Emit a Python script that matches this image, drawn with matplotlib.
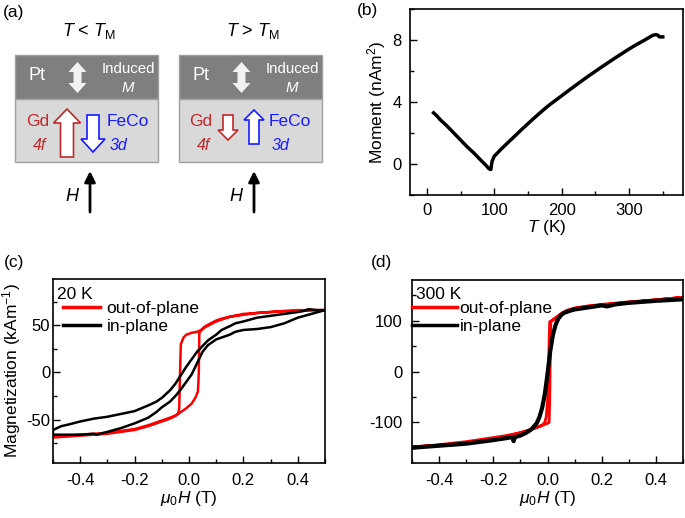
import matplotlib
matplotlib.use('Agg')
import matplotlib.pyplot as plt
from matplotlib.patches import Polygon, Rectangle
from matplotlib.lines import Line2D
from matplotlib.ticker import MultipleLocator

plt.rcParams['font.family'] = ['Liberation Sans', 'DejaVu Sans']
plt.rcParams['mathtext.fontset'] = 'custom'
plt.rcParams['mathtext.rm'] = 'Liberation Sans'
plt.rcParams['mathtext.it'] = 'Liberation Sans:italic'
plt.rcParams['font.size'] = 12.5

# (b) moment vs temperature
temp_k = [10, 15, 20, 30, 40, 50, 60, 70, 80, 88, 92, 94, 95, 96, 97, 100, 110, 120, 130,
          140, 150, 160, 170, 180, 190, 200, 210, 220, 230, 240, 250, 260, 270, 280, 290,
          300, 310, 320, 330, 335, 340, 343, 345, 350]
moment = [3.3, 3.1, 2.85, 2.45, 2.0, 1.55, 1.1, 0.7, 0.25, -0.1, -0.3, -0.35, -0.35, 0.0,
          0.2, 0.5, 0.95, 1.37, 1.78, 2.2, 2.6, 3.0, 3.38, 3.75, 4.08, 4.4, 4.73, 5.05, 5.37,
          5.68, 5.98, 6.28, 6.57, 6.86, 7.14, 7.42, 7.68, 7.92, 8.17, 8.3, 8.35, 8.3, 8.2, 8.2]

# (c) 20 K loops
c_oop_h_down = [0.50, 0.45, 0.40, 0.35, 0.30, 0.25, 0.20, 0.15, 0.12, 0.10, 0.08, 0.06, 0.045,
                0.03, 0.01, -0.01, -0.02, -0.03, -0.033, -0.036, -0.04, -0.06, -0.08, -0.10,
                -0.12, -0.15, -0.20, -0.25, -0.30, -0.35, -0.40, -0.45, -0.50]
c_oop_m_down = [66, 66, 65, 65, 64, 63, 61, 59, 57, 55, 52, 49, 45, 43, 42, 40, 37, 30, 0, -38,
                -44, -47, -49, -51, -53, -56, -60, -62, -64, -65, -66, -67, -68]
c_oop_h_up = [-0.50, -0.45, -0.40, -0.35, -0.30, -0.25, -0.20, -0.15, -0.10, -0.07, -0.05,
              -0.03, -0.01, 0.01, 0.025, 0.033, 0.036, 0.038, 0.045, 0.06, 0.08, 0.10, 0.12,
              0.15, 0.20, 0.25, 0.30, 0.35, 0.40, 0.45, 0.50]
c_oop_m_up = [-69, -68, -67, -66, -65, -63, -61, -57, -52, -49, -46, -42, -38, -33, -26, -20,
              0, 42, 45, 48, 51, 54, 56, 59, 62, 63, 64, 65, 66, 66, 66]
c_ip_h_down = [0.50, 0.47, 0.44, 0.42, 0.40, 0.35, 0.30, 0.25, 0.20, 0.17, 0.15, 0.12, 0.10,
               0.07, 0.05, 0.03, 0.01, -0.01, -0.03, -0.05, -0.07, -0.10, -0.12, -0.15, -0.20,
               -0.25, -0.30, -0.35, -0.40, -0.44, -0.47, -0.50]
c_ip_m_down = [66, 66, 67, 65, 64, 62, 60, 58, 54, 52, 49, 45, 40, 34, 28, 22, 14, 6, -3, -12,
               -19, -27, -31, -35, -41, -44, -47, -49, -52, -55, -57, -61]
c_ip_h_up = [-0.50, -0.45, -0.40, -0.35, -0.34, -0.30, -0.25, -0.20, -0.15, -0.12, -0.10,
             -0.07, -0.05, -0.03, -0.01, 0.01, 0.03, 0.05, 0.07, 0.10, 0.12, 0.15, 0.17, 0.20,
             0.25, 0.30, 0.35, 0.40, 0.45, 0.50]
c_ip_m_up = [-66, -66, -66, -65, -66, -63, -59, -54, -48, -42, -37, -31, -25, -18, -10, -2,
             10, 22, 29, 35, 37, 40, 43, 45, 46, 48, 52, 58, 62, 66]

# (d) 300 K loops
d_oop_h_down = [0.50, 0.40, 0.30, 0.20, 0.15, 0.10, 0.07, 0.05, 0.03, 0.015, 0.008, 0.006,
                0.004, 0.0, -0.005, -0.01, -0.02, -0.04, -0.06, -0.10, -0.15, -0.20, -0.30,
                -0.40, -0.50]
d_oop_m_down = [146, 141, 137, 132, 129, 125, 120, 114, 106, 100, 98, 60, 0, -60, -90, -100,
                -106, -110, -114, -120, -126, -130, -138, -144, -149]
d_oop_h_up = [-0.50, -0.40, -0.30, -0.20, -0.15, -0.10, -0.06, -0.04, -0.02, 0.0, 0.006,
              0.008, 0.010, 0.012, 0.016, 0.03, 0.05, 0.07, 0.10, 0.15, 0.20, 0.30, 0.40, 0.50]
d_oop_m_up = [-148, -145, -140, -132, -127, -121, -114, -110, -106, -102, -100, -60, 20, 96,
              100, 104, 112, 119, 124, 128, 131, 136, 141, 146]
d_ip_h = [-0.50, -0.40, -0.30, -0.20, -0.15, -0.13, -0.125, -0.12, -0.10, -0.08, -0.06, -0.04,
          -0.03, -0.02, -0.01, 0.0, 0.01, 0.02, 0.03, 0.04, 0.05, 0.06, 0.08, 0.10, 0.15, 0.20,
          0.22, 0.25, 0.30, 0.40, 0.50]
d_ip_m = [-150, -146, -142, -135, -131, -129, -137, -129, -126, -121, -114, -102, -90, -72, -45,
          -5, 40, 72, 92, 104, 111, 115, 119, 122, 126, 130, 128, 132, 135, 139, 142]

W, H = 685, 518
fig = plt.figure(figsize=(W / 100, H / 100), dpi=100)


def px_axes(left, top, right, bottom):
    return fig.add_axes([left / W, 1 - bottom / H, (right - left) / W, (bottom - top) / H])


def style_axes(ax, xpad=6, ypad=6):
    ax.tick_params(which='both', direction='in', top=False, right=False, labelsize=12)
    ax.tick_params(axis='x', pad=xpad)
    ax.tick_params(axis='y', pad=ypad)
    ax.tick_params(which='major', length=5, width=1)
    ax.tick_params(which='minor', length=3, width=1)
    for s in ax.spines.values():
        s.set_linewidth(1.2)


# ---------- (a) schematic ----------
axa = fig.add_axes([0, 1 - 250 / H, 340 / W, 250 / H])
axa.set_xlim(0, 340)
axa.set_ylim(250, 0)
axa.axis('off')

RED = '#c0282d'
BLUE = '#1a1aff'


def block_arrow(x, y_tail, y_tip, shaft_w, head_w, head_len, fc, ec, lw=1.2):
    d = 1 if y_tip > y_tail else -1
    yb = y_tip - d * head_len
    pts = [(x - shaft_w / 2, y_tail), (x - shaft_w / 2, yb), (x - head_w / 2, yb), (x, y_tip),
           (x + head_w / 2, yb), (x + shaft_w / 2, yb), (x + shaft_w / 2, y_tail)]
    axa.add_patch(Polygon(pts, closed=True, fc=fc, ec=ec, lw=lw, zorder=3))


def double_arrow(x, y_top, y_bot):
    hw, sw, hl = 18, 8, 10
    pts = [(x, y_top), (x + hw / 2, y_top + hl), (x + sw / 2, y_top + hl),
           (x + sw / 2, y_bot - hl), (x + hw / 2, y_bot - hl), (x, y_bot),
           (x - hw / 2, y_bot - hl), (x - sw / 2, y_bot - hl), (x - sw / 2, y_top + hl),
           (x - hw / 2, y_top + hl)]
    axa.add_patch(Polygon(pts, closed=True, fc='#f2f2f2', ec='none', zorder=3))


panels = [
    dict(x0=15, title=r'$T$ < $T_{\rm M}$', gd=(67, 157, 109, 13, 27, 14),
         fe=(93, 115, 152, 12, 24, 13), gd_x=38, fe_x=128, f4_x=40, d3_x=119, h_x=90),
    dict(x0=179, title=r'$T$ > $T_{\rm M}$', gd=(228, 115, 140, 10, 20, 10),
         fe=(254, 144, 110, 10, 20, 10), gd_x=201, fe_x=290, f4_x=204, d3_x=281, h_x=254),
]
for p in panels:
    x0 = p['x0']
    axa.add_patch(Rectangle((x0, 55), 143, 44, fc='#7f7f7f', ec='#a0a0a0', lw=1))
    axa.add_patch(Rectangle((x0, 99), 143, 63, fc='#d9d9d9', ec='#a0a0a0', lw=1))
    axa.text(x0 + 74, 31, p['title'], ha='center', va='center', fontsize=13)
    axa.text(x0 + 22, 76, 'Pt', color='white', ha='center', va='center', fontsize=13)
    double_arrow(x0 + 62.5, 62, 93)
    axa.text(x0 + 113, 69, 'Induced', color='white', ha='center', va='center', fontsize=10.8)
    axa.text(x0 + 113, 88, 'M', color='white', style='italic', ha='center', va='center',
             fontsize=10.8)
    block_arrow(*p['gd'], fc='white', ec=RED)
    block_arrow(*p['fe'], fc='white', ec=BLUE)
    axa.text(p['gd_x'], 121, 'Gd', color=RED, ha='center', va='center', fontsize=12.5)
    axa.text(p['f4_x'], 146, '4f', color=RED, style='italic', ha='center', va='center',
             fontsize=11.5)
    axa.text(p['fe_x'], 121, 'FeCo', color=BLUE, ha='center', va='center', fontsize=12.5)
    axa.text(p['d3_x'], 146, '3d', color=BLUE, style='italic', ha='center', va='center',
             fontsize=11.5)
    axa.annotate('', xy=(p['h_x'], 171), xytext=(p['h_x'], 212),
                 arrowprops=dict(arrowstyle='-|>', lw=2, color='k', mutation_scale=16,
                                 shrinkA=0, shrinkB=0))
    axa.text(p['h_x'] - 18, 197, 'H', style='italic', ha='center', va='center', fontsize=13)

# ---------- (b) ----------
axb = px_axes(410, 9, 683, 195)
axb.plot(temp_k, moment, color='k', lw=2.5)
axb.set_xlim(-25, 380)
axb.set_ylim(-2, 10)
axb.xaxis.set_major_locator(MultipleLocator(100))
axb.xaxis.set_minor_locator(MultipleLocator(50))
axb.yaxis.set_major_locator(MultipleLocator(4))
axb.yaxis.set_minor_locator(MultipleLocator(2))
axb.set_xlabel(r'$T$ (K)', labelpad=0)
axb.set_ylabel(r'Moment (nAm$^2$)', labelpad=3)
style_axes(axb, xpad=6, ypad=6)

# ---------- (c) ----------
axc = px_axes(53, 279, 325, 463)
axc.plot(c_oop_h_down + c_oop_h_up, c_oop_m_down + c_oop_m_up, color='#ff0000', lw=1.8)
axc.plot(c_ip_h_down + c_ip_h_up, c_ip_m_down + c_ip_m_up, color='k', lw=1.8)
axc.set_xlim(-0.5, 0.5)
axc.set_ylim(-96, 99)
axc.xaxis.set_minor_locator(MultipleLocator(0.1))
axc.yaxis.set_minor_locator(MultipleLocator(25))
axc.set_xticks([-0.4, -0.2, 0.0, 0.2, 0.4])
axc.set_xticklabels(['-0.4', '-0.2', '0.0', '0.2', '0.4'])
axc.set_yticks([-50, 0, 50])
axc.set_yticklabels(['-50', '0', '50'])
axc.set_xlabel(r'$\mu_0H$ (T)', labelpad=1)
axc.set_ylabel(r'Magnetization (kAm$^{-1}$)', labelpad=2)
style_axes(axc, xpad=7, ypad=2)
axc.text(0.015, 0.918, '20 K', transform=axc.transAxes, ha='left', va='center')
handles = [Line2D([], [], color='#ff0000', lw=2.5), Line2D([], [], color='k', lw=2.5)]
axc.legend(handles, ['out-of-plane', 'in-plane'], loc='upper left',
           bbox_to_anchor=(0.037, 0.88), frameon=False, borderpad=0, borderaxespad=0,
           handlelength=2.1, handletextpad=0.4, labelspacing=0.15)

# ---------- (d) ----------
axd = px_axes(412, 280, 683, 463)
axd.plot(d_oop_h_down + d_oop_h_up, d_oop_m_down + d_oop_m_up, color='#ff0000', lw=2)
axd.plot(d_ip_h, d_ip_m, color='k', lw=3)
axd.set_xlim(-0.5, 0.5)
axd.set_ylim(-180, 180)
axd.xaxis.set_minor_locator(MultipleLocator(0.1))
axd.yaxis.set_minor_locator(MultipleLocator(50))
axd.set_xticks([-0.4, -0.2, 0.0, 0.2, 0.4])
axd.set_xticklabels(['-0.4', '-0.2', '0.0', '0.2', '0.4'])
axd.set_yticks([-100, 0, 100])
axd.set_yticklabels(['-100', '0', '100'])
axd.set_xlabel(r'$\mu_0H$ (T)', labelpad=1)
style_axes(axd, xpad=7, ypad=7)
axd.text(0.016, 0.923, '300 K', transform=axd.transAxes, ha='left', va='center')
axd.legend(handles, ['out-of-plane', 'in-plane'], loc='upper left',
           bbox_to_anchor=(0.0, 0.885), frameon=False, borderpad=0, borderaxespad=0,
           handlelength=2.6, handletextpad=0.15, labelspacing=0.15)

# panel labels
for lbl, (x, y) in {'(a)': (14, 12), '(b)': (368, 10), '(c)': (14, 262),
                    '(d)': (381, 262)}.items():
    fig.text(x / W, 1 - y / H, lbl, ha='center', va='center', fontsize=12.5)

fig.savefig('out.png', dpi=100)
